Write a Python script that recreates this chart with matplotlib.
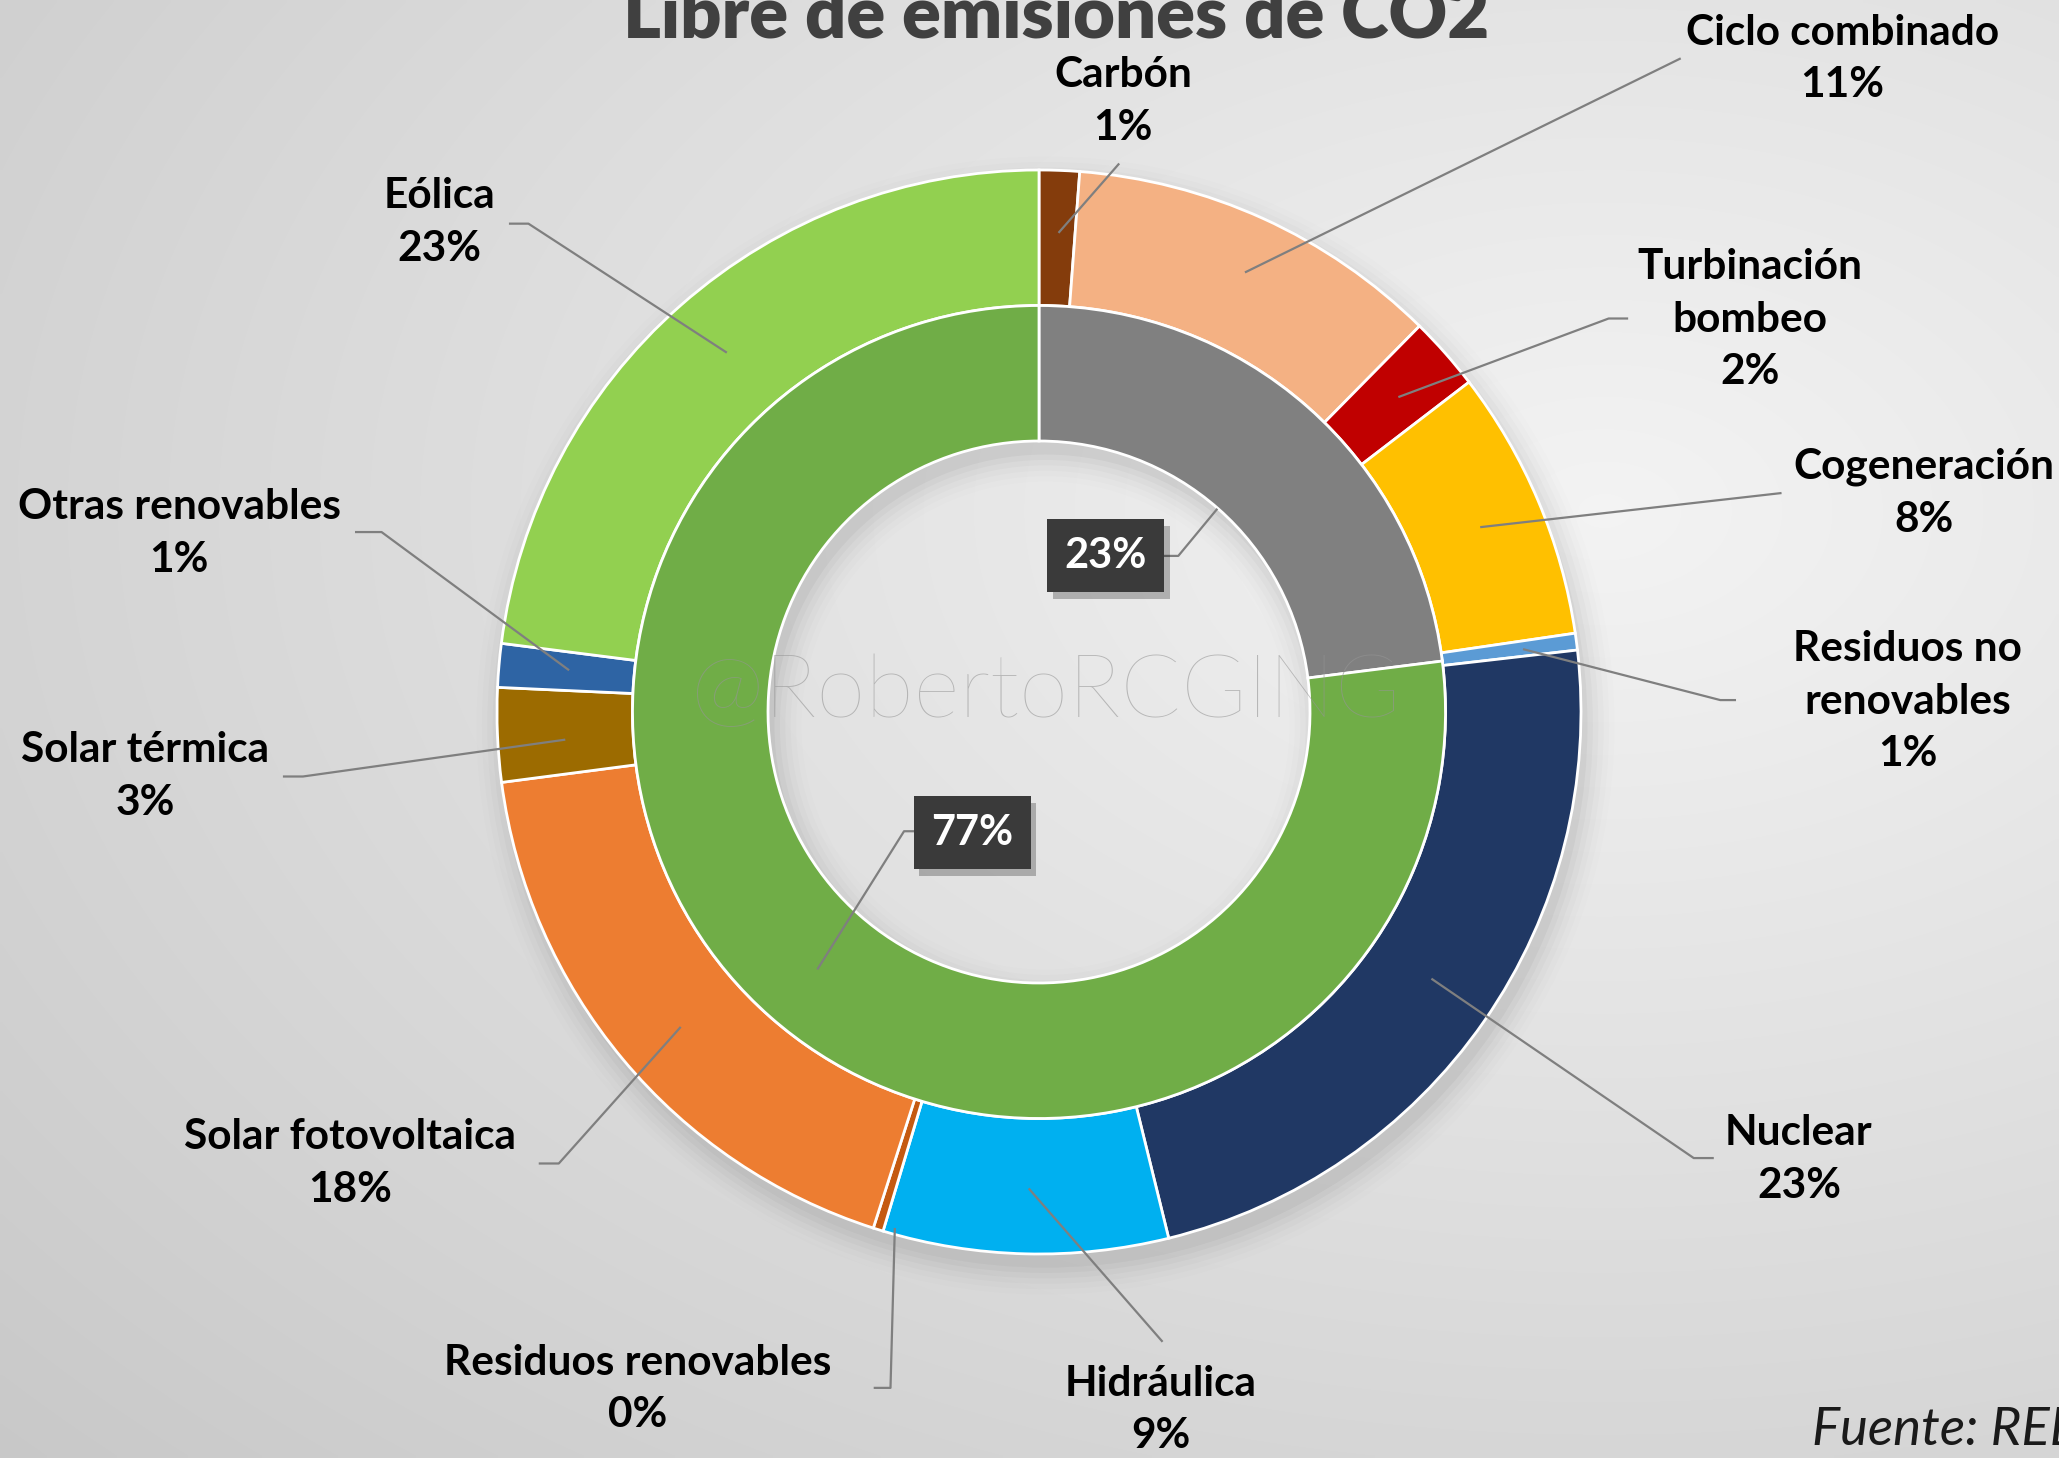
import numpy as np
import matplotlib
matplotlib.use("Agg")
import matplotlib.pyplot as plt
from matplotlib.patches import Wedge
import matplotlib.patheffects as pe

plt.rcParams['font.family'] = ['Lato', 'DejaVu Sans']

# ---------------- data ----------------
outer_names = ["Carbón", "Ciclo combinado", "Turbinación\nbombeo", "Cogeneración",
               "Residuos no\nrenovables", "Nuclear", "Hidráulica", "Residuos renovables",
               "Solar fotovoltaica", "Solar térmica", "Otras renovables", "Eólica"]
outer_values = [1.2, 11.2, 2.2, 8.1, 0.5, 23.0, 8.5, 0.3, 18.0, 2.8, 1.3, 23.0]
outer_pct_labels = ["1%", "11%", "2%", "8%", "1%", "23%", "9%", "0%", "18%", "3%", "1%", "23%"]
outer_colors = ["#843C0C", "#F4B183", "#C00000", "#FFC000", "#5B9BD5", "#203864",
                "#00B0F0", "#C55A11", "#ED7D31", "#9C6B00", "#2E64A4", "#92D050"]

inner_names = ["Emisora de CO2", "Libre de emisiones de CO2"]
inner_values = [23, 77]
inner_pct_labels = ["23%", "77%"]
inner_colors = ["#808080", "#70AD47"]

title = "Libre de emisiones de CO2"
source = "Fuente: REE"
watermark = "@RobertoRCGING"

# ---------------- layout (positions in pie-radius units) ----------------
outer_label_pos = [(0.155, 1.126), (1.482, 1.205), (1.312, 0.724), (1.632, 0.404),
                   (1.603, 0.019), (1.402, -0.826), (0.225, -1.288), (-0.741, -1.249),
                   (-1.271, -0.833), (-1.649, -0.119), (-1.586, 0.329), (-1.107, 0.903)]
outer_leaders = [
    [(0.036, 0.884), (0.148, 1.012)],
    [(0.380, 0.811), (1.184, 1.206)],
    [(0.663, 0.581), (1.051, 0.726), (1.087, 0.726)],
    [(0.814, 0.341), (1.370, 0.404)],
    [(0.893, 0.116), (1.257, 0.022), (1.286, 0.022)],
    [(0.724, -0.492), (1.208, -0.823), (1.245, -0.823)],
    [(-0.019, -0.879), (0.228, -1.162)],
    [(-0.266, -0.952), (-0.274, -1.247), (-0.305, -1.247)],
    [(-0.661, -0.581), (-0.886, -0.833), (-0.923, -0.833)],
    [(-0.874, -0.051), (-1.358, -0.119), (-1.395, -0.119)],
    [(-0.867, 0.077), (-1.213, 0.332), (-1.262, 0.332)],
    [(-0.576, 0.663), (-0.942, 0.901), (-0.978, 0.901)],
]
inner_label_pos = [(0.123, 0.288), (-0.123, -0.223)]
inner_leaders = [
    [(0.329, 0.375), (0.257, 0.288), (0.215, 0.288)],
    [(-0.409, -0.475), (-0.249, -0.220), (-0.220, -0.220)],
]

W, H = 2059, 1458
cx, cy, R = 1039, 712, 542  # pixel centre and radius of the pie

fig = plt.figure(figsize=(W / 100, H / 100), dpi=100)

# background gradient
bg = fig.add_axes([0, 0, 1, 1])
bg.set_axis_off()
yy, xx = np.mgrid[0:1:300j, 0:1:420j]
d = np.sqrt(((xx - 0.78) * 1.0) ** 2 + ((yy - 0.35) * 1.1) ** 2)
val = 0.955 - 0.16 * np.clip(d, 0, 1.2)
val = np.clip(val, 0.78, 0.96)
img = np.dstack([val, val, val])
bg.imshow(img, extent=[0, 1, 0, 1], aspect='auto', origin='upper', interpolation='bilinear')
bg.set_xlim(0, 1)
bg.set_ylim(0, 1)

ax = fig.add_axes([0, 0, 1, 1])
ax.set_axis_off()

# soft shadow
for i, a in enumerate(np.linspace(0.05, 0.01, 6)):
    ax.add_patch(Wedge((0.012, -0.025), 1.0 + 0.01 * i, 0, 360, width=0.5 + 0.02 * i,
                       facecolor='black', alpha=a * 0.6, edgecolor='none', zorder=1))

ax.pie(outer_values, radius=1.0, startangle=90, counterclock=False,
       colors=outer_colors, wedgeprops=dict(width=0.25, edgecolor='white', linewidth=2.0, zorder=2))
ax.pie(inner_values, radius=0.75, startangle=90, counterclock=False,
       colors=inner_colors, wedgeprops=dict(width=0.25, edgecolor='white', linewidth=2.0, zorder=2))
ax.set_xlim(-cx / R, (W - cx) / R)
ax.set_ylim(-(H - cy) / R, cy / R)
ax.set_aspect('equal')

# watermark
ax.text(0.012, 0.035, watermark, ha='center', va='center', fontsize=64, fontweight='light',
        color='#959595', alpha=0.6, zorder=3)

lc = '#7F7F7F'
for pts in outer_leaders + inner_leaders:
    xs, ys = zip(*pts)
    ax.plot(xs, ys, color=lc, lw=1.6, zorder=4, solid_capstyle='butt')

for name, pct, (x, y) in zip(outer_names, outer_pct_labels, outer_label_pos):
    ax.text(x, y, f"{name}\n{pct}", ha='center', va='center', fontsize=30.5,
            fontweight='bold', color='black', linespacing=1.47, zorder=5)

for pct, (x, y) in zip(inner_pct_labels, inner_label_pos):
    t = ax.text(x, y, pct, ha='center', va='center', fontsize=30, fontweight='bold', color='white',
                zorder=5, bbox=dict(boxstyle='square,pad=0.42', facecolor='#3A3A3A', edgecolor='none'))
    t.get_bbox_patch().set_path_effects([
        pe.SimplePatchShadow(offset=(4, -5), shadow_rgbFace='black', alpha=0.25), pe.Normal()])

fig.text(0.513, 1 - 38 / H, title, ha='center', va='baseline', fontsize=52,
         fontweight='heavy', color='#404040')
fig.text(1812 / W, 1 - 1445 / H, source, ha='left', va='baseline', fontsize=38,
         style='italic', color='#1A1A1A')

fig.savefig("out.png", dpi=100)
